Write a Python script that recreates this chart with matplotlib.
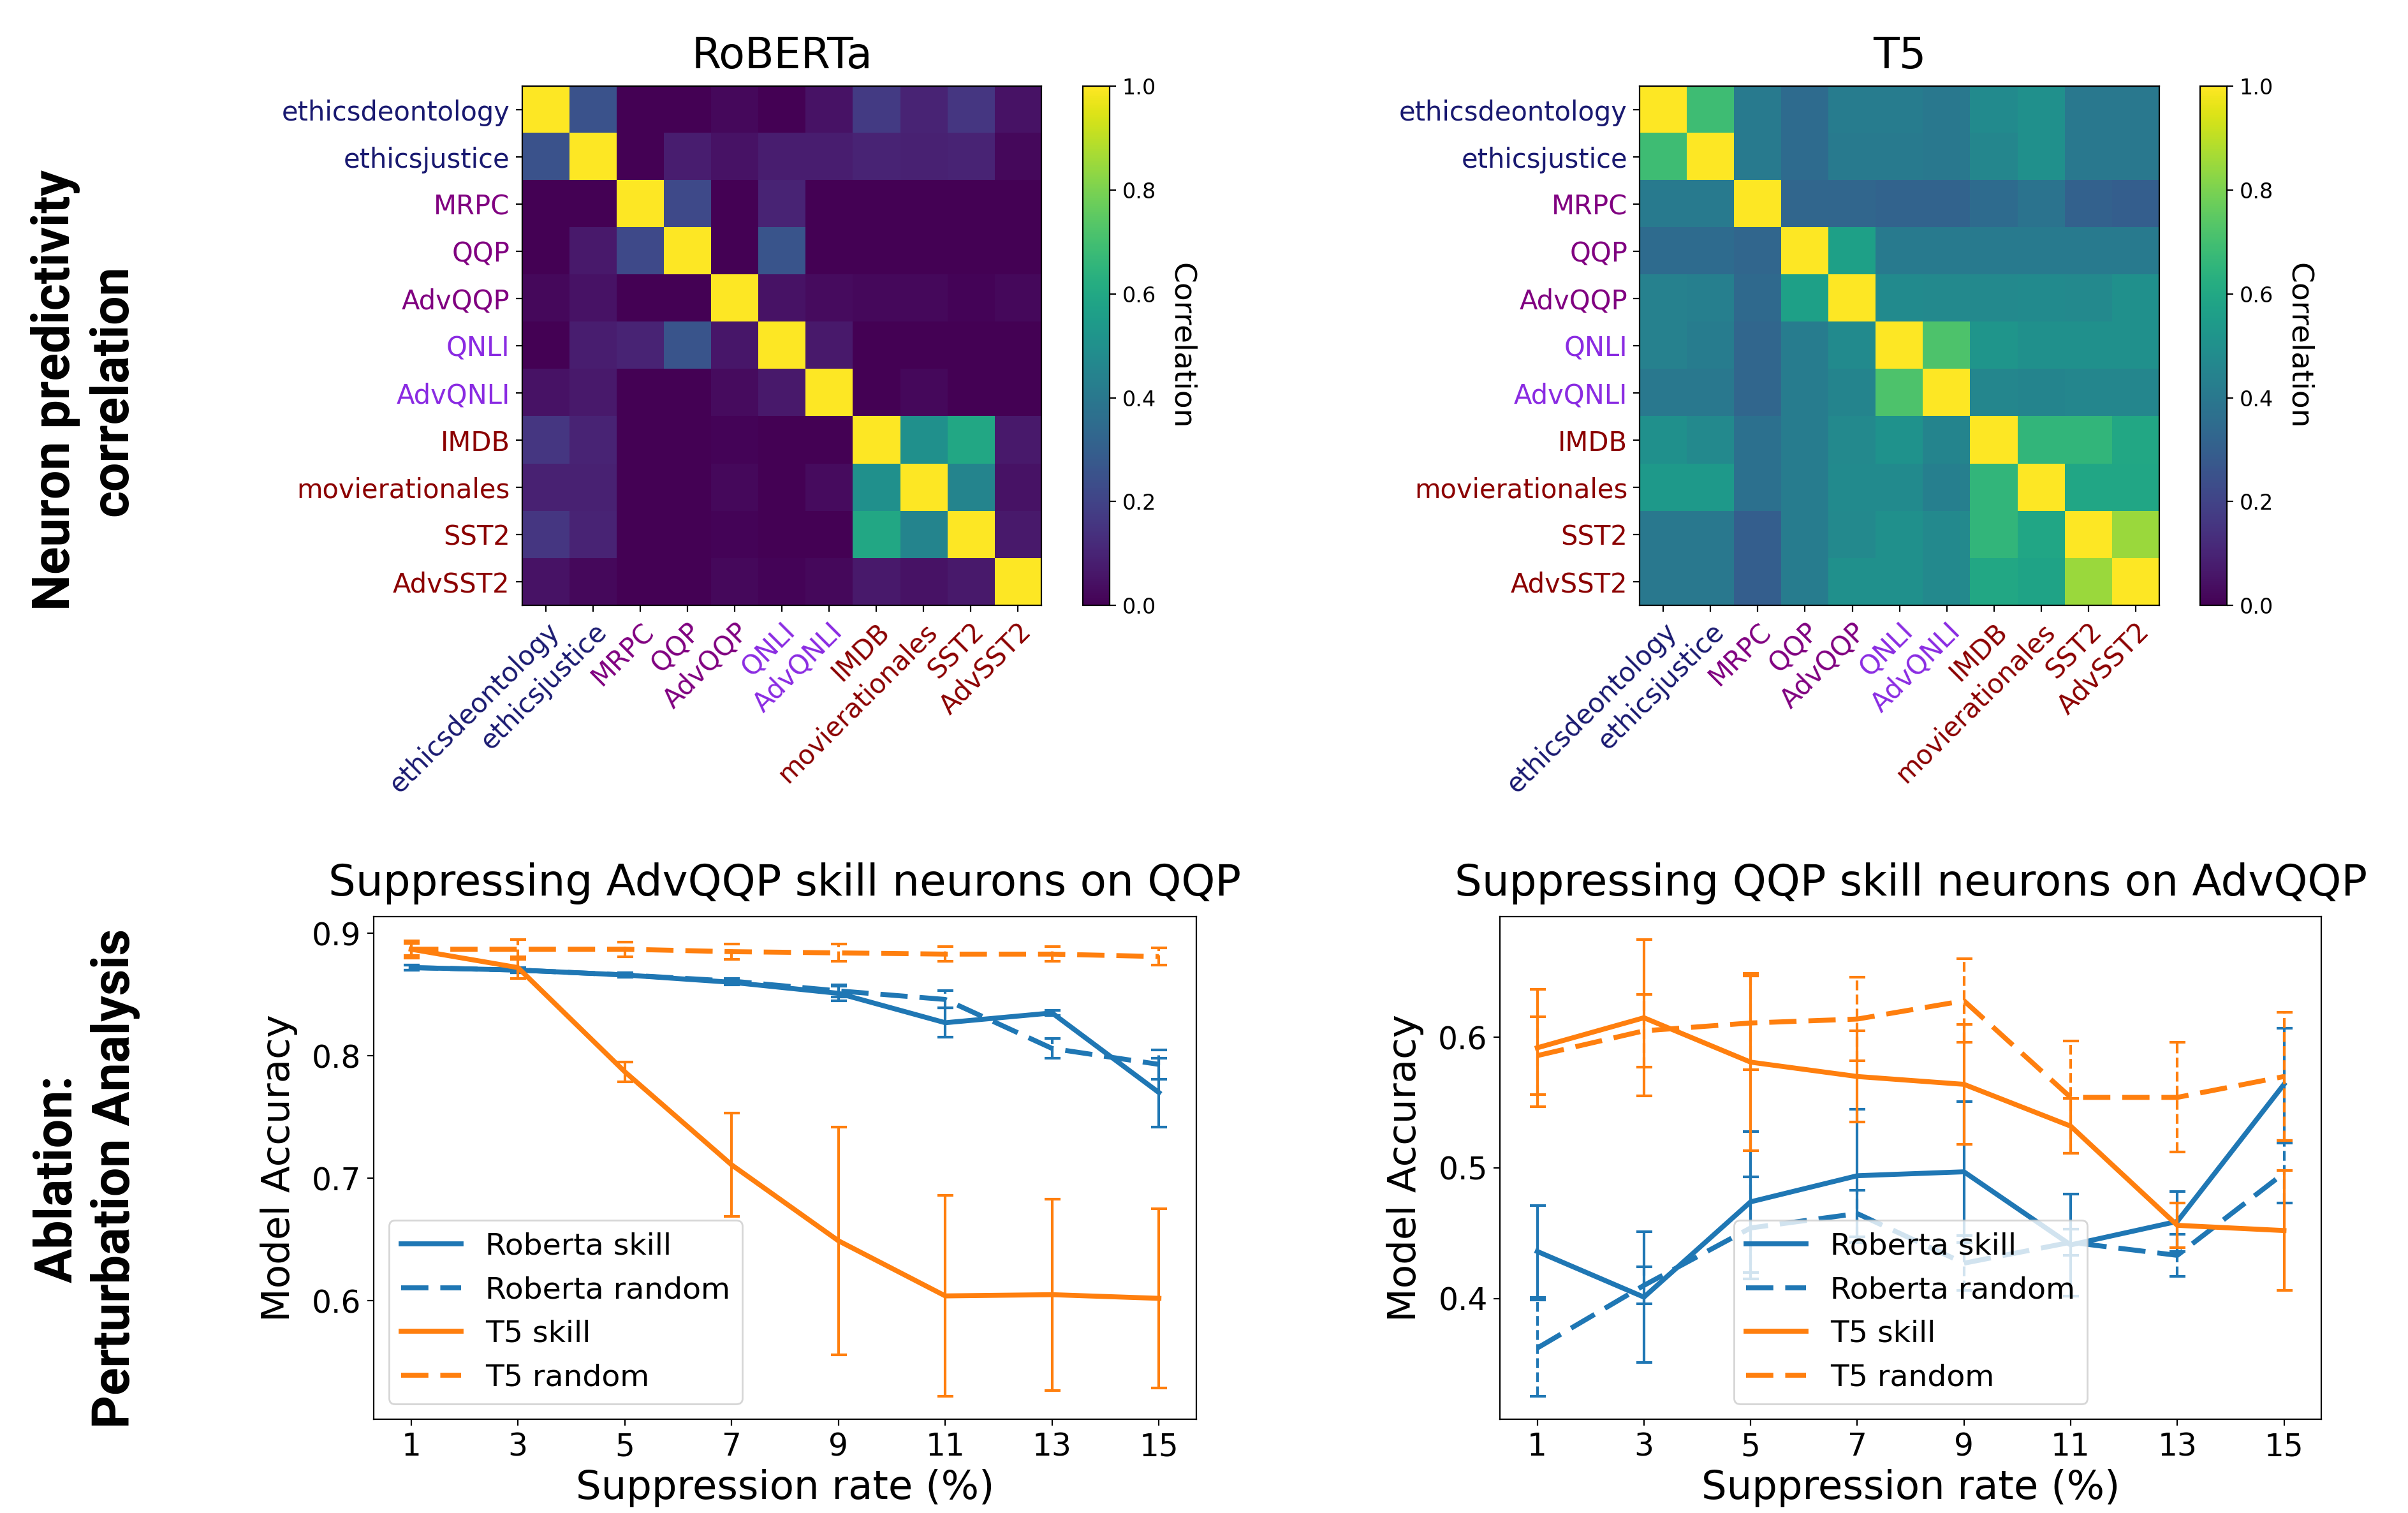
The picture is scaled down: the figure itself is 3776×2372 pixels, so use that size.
import matplotlib
matplotlib.use("Agg")
import matplotlib.pyplot as plt
from matplotlib.ticker import MultipleLocator
import numpy as np

# --- heatmap data ---------------------------------------------------------
TASKS = ["ethicsdeontology", "ethicsjustice", "MRPC", "QQP", "AdvQQP", "QNLI",
         "AdvQNLI", "IMDB", "movierationales", "SST2", "AdvSST2"]
TASK_COLORS = ["midnightblue"] * 2 + ["purple"] * 3 + ["blueviolet"] * 2 + ["darkred"] * 4

ROBERTA_CORR = [
    [1.00, 0.25, 0.00, 0.00, 0.02, 0.00, 0.05, 0.17, 0.10, 0.16, 0.05],
    [0.25, 1.00, 0.00, 0.08, 0.05, 0.08, 0.08, 0.10, 0.09, 0.10, 0.02],
    [0.00, 0.00, 1.00, 0.22, 0.00, 0.10, 0.00, 0.00, 0.00, 0.00, 0.00],
    [0.00, 0.07, 0.22, 1.00, 0.00, 0.26, 0.00, 0.00, 0.00, 0.00, 0.00],
    [0.02, 0.05, 0.00, 0.00, 1.00, 0.05, 0.03, 0.02, 0.02, 0.01, 0.02],
    [0.00, 0.08, 0.10, 0.26, 0.06, 1.00, 0.07, 0.00, 0.00, 0.00, 0.00],
    [0.05, 0.07, 0.00, 0.00, 0.03, 0.07, 1.00, 0.00, 0.02, 0.00, 0.00],
    [0.16, 0.10, 0.00, 0.00, 0.01, 0.00, 0.00, 1.00, 0.50, 0.60, 0.07],
    [0.09, 0.09, 0.00, 0.00, 0.02, 0.00, 0.03, 0.50, 1.00, 0.45, 0.05],
    [0.16, 0.10, 0.00, 0.00, 0.01, 0.00, 0.00, 0.60, 0.45, 1.00, 0.07],
    [0.05, 0.02, 0.00, 0.00, 0.02, 0.01, 0.02, 0.07, 0.05, 0.07, 1.00],
]

T5_CORR = [
    [1.00, 0.69, 0.41, 0.35, 0.42, 0.42, 0.40, 0.48, 0.50, 0.40, 0.40],
    [0.69, 1.00, 0.41, 0.35, 0.41, 0.41, 0.40, 0.46, 0.50, 0.40, 0.40],
    [0.41, 0.41, 1.00, 0.33, 0.33, 0.32, 0.32, 0.35, 0.38, 0.31, 0.30],
    [0.35, 0.35, 0.33, 1.00, 0.57, 0.41, 0.41, 0.41, 0.41, 0.41, 0.41],
    [0.44, 0.43, 0.34, 0.57, 1.00, 0.48, 0.47, 0.47, 0.48, 0.47, 0.50],
    [0.44, 0.42, 0.33, 0.42, 0.48, 1.00, 0.72, 0.52, 0.50, 0.50, 0.50],
    [0.40, 0.40, 0.33, 0.42, 0.45, 0.72, 1.00, 0.46, 0.45, 0.46, 0.46],
    [0.50, 0.47, 0.37, 0.42, 0.47, 0.51, 0.45, 1.00, 0.66, 0.66, 0.60],
    [0.54, 0.54, 0.37, 0.42, 0.48, 0.48, 0.43, 0.66, 1.00, 0.59, 0.59],
    [0.40, 0.40, 0.30, 0.42, 0.47, 0.50, 0.47, 0.66, 0.59, 1.00, 0.85],
    [0.40, 0.40, 0.30, 0.42, 0.50, 0.50, 0.47, 0.60, 0.58, 0.85, 1.00],
]

# --- ablation data ---------------------------------------------------------
RATES = [1, 3, 5, 7, 9, 11, 13, 15]

# suppressing AdvQQP skill neurons, evaluated on QQP
QQP_ROB_SKILL = [0.872, 0.870, 0.866, 0.860, 0.851, 0.827, 0.835, 0.770]
QQP_ROB_SKILL_ERR = [0.002, 0.002, 0.002, 0.002, 0.006, 0.012, 0.002, 0.028]
QQP_ROB_RAND = [0.872, 0.870, 0.866, 0.861, 0.853, 0.846, 0.806, 0.793]
QQP_ROB_RAND_ERR = [0.002, 0.002, 0.002, 0.002, 0.005, 0.007, 0.008, 0.012]
QQP_T5_SKILL = [0.887, 0.872, 0.787, 0.711, 0.649, 0.604, 0.605, 0.602]
QQP_T5_SKILL_ERR = [0.005, 0.009, 0.008, 0.042, 0.093, 0.082, 0.078, 0.073]
QQP_T5_RAND = [0.887, 0.887, 0.887, 0.885, 0.884, 0.883, 0.883, 0.881]
QQP_T5_RAND_ERR = [0.007, 0.008, 0.006, 0.006, 0.007, 0.006, 0.006, 0.007]

# suppressing QQP skill neurons, evaluated on AdvQQP
ADV_ROB_SKILL = [0.436, 0.401, 0.474, 0.494, 0.497, 0.441, 0.459, 0.564]
ADV_ROB_SKILL_ERR = [0.035, 0.050, 0.054, 0.051, 0.054, 0.039, 0.023, 0.043]
ADV_ROB_RAND = [0.362, 0.410, 0.454, 0.465, 0.427, 0.443, 0.433, 0.496]
ADV_ROB_RAND_ERR = [0.037, 0.014, 0.039, 0.018, 0.021, 0.010, 0.016, 0.023]
ADV_T5_SKILL = [0.592, 0.615, 0.581, 0.570, 0.564, 0.532, 0.456, 0.452]
ADV_T5_SKILL_ERR = [0.045, 0.060, 0.068, 0.035, 0.046, 0.021, 0.017, 0.046]
ADV_T5_RAND = [0.586, 0.605, 0.611, 0.614, 0.628, 0.554, 0.554, 0.570]
ADV_T5_RAND_ERR = [0.030, 0.028, 0.036, 0.032, 0.032, 0.043, 0.042, 0.049]

BLUE, ORANGE = "#1f77b4", "#ff7f0e"
DASH = (0, (5.5, 2.4))


def heatmap(ax, cax, data, title):
    im = ax.imshow(np.array(data), cmap="viridis", vmin=0, vmax=1)
    ax.set_xticks(range(len(TASKS)))
    ax.set_yticks(range(len(TASKS)))
    ax.set_xticklabels(TASKS, fontsize=15)
    ax.set_yticklabels(TASKS, fontsize=15)
    plt.setp(ax.get_xticklabels(), rotation=45, ha="right", rotation_mode="anchor")
    for lab, c in zip(ax.get_xticklabels(), TASK_COLORS):
        lab.set_color(c)
    for lab, c in zip(ax.get_yticklabels(), TASK_COLORS):
        lab.set_color(c)
    ax.set_title(title, fontsize=24, pad=10)
    cb = fig.colorbar(im, cax=cax)
    cb.ax.tick_params(labelsize=12)
    cb.set_label("Correlation", rotation=270, va="bottom", labelpad=6, fontsize=17)


def ablation(ax, title, series, legend_loc):
    for vals, errs, color, dashed, label in series:
        ls = DASH if dashed else "-"
        eb = ax.errorbar(RATES, vals, yerr=errs, fmt="none", ecolor=color,
                         elinewidth=1.5, capsize=4.5, capthick=1.5)
        if dashed:
            eb.lines[2][0].set_linestyle("--")
        ax.plot(RATES, vals, color=color, lw=2.8, ls=ls, label=label)
    ax.set_xticks(RATES)
    ax.yaxis.set_major_locator(MultipleLocator(0.1))
    ax.tick_params(labelsize=17.5)
    ax.set_title(title, fontsize=24.3, pad=12)
    ax.set_xlabel("Suppression rate (%)", fontsize=22.5)
    ax.set_ylabel("Model Accuracy", fontsize=22, labelpad=8)
    ax.legend(loc=legend_loc, fontsize=17)


fig = plt.figure(figsize=(18.88, 11.86), dpi=200)

ax1 = fig.add_axes([0.2169, 0.5998, 0.2156, 0.3432])
cax1 = fig.add_axes([0.4498, 0.5998, 0.0111, 0.3432])
ax2 = fig.add_axes([0.6810, 0.5998, 0.2156, 0.3432])
cax2 = fig.add_axes([0.9137, 0.5998, 0.0111, 0.3432])
heatmap(ax1, cax1, ROBERTA_CORR, "RoBERTa")
heatmap(ax2, cax2, T5_CORR, "T5")

ax3 = fig.add_axes([0.1552, 0.062, 0.3416, 0.3322])
ax4 = fig.add_axes([0.6229, 0.062, 0.3411, 0.3322])
ablation(ax3, "Suppressing AdvQQP skill neurons on QQP", [
    (QQP_ROB_SKILL, QQP_ROB_SKILL_ERR, BLUE, False, "Roberta skill"),
    (QQP_ROB_RAND, QQP_ROB_RAND_ERR, BLUE, True, "Roberta random"),
    (QQP_T5_SKILL, QQP_T5_SKILL_ERR, ORANGE, False, "T5 skill"),
    (QQP_T5_RAND, QQP_T5_RAND_ERR, ORANGE, True, "T5 random"),
], "lower left")
ablation(ax4, "Suppressing QQP skill neurons on AdvQQP", [
    (ADV_ROB_SKILL, ADV_ROB_SKILL_ERR, BLUE, False, "Roberta skill"),
    (ADV_ROB_RAND, ADV_ROB_RAND_ERR, BLUE, True, "Roberta random"),
    (ADV_T5_SKILL, ADV_T5_SKILL_ERR, ORANGE, False, "T5 skill"),
    (ADV_T5_RAND, ADV_T5_RAND_ERR, ORANGE, True, "T5 random"),
], "lower center")

# row labels
fig.text(0.035, 0.742, "Neuron predictivity\ncorrelation", rotation=90,
         ha="center", va="center", multialignment="center",
         fontsize=29, fontweight="bold", family="Roboto")
fig.text(0.036, 0.221, "Ablation:\nPerturbation Analysis", rotation=90,
         ha="center", va="center", multialignment="center",
         fontsize=29, fontweight="bold", family="Roboto")

fig.savefig("out.png", dpi=200, facecolor="white")
